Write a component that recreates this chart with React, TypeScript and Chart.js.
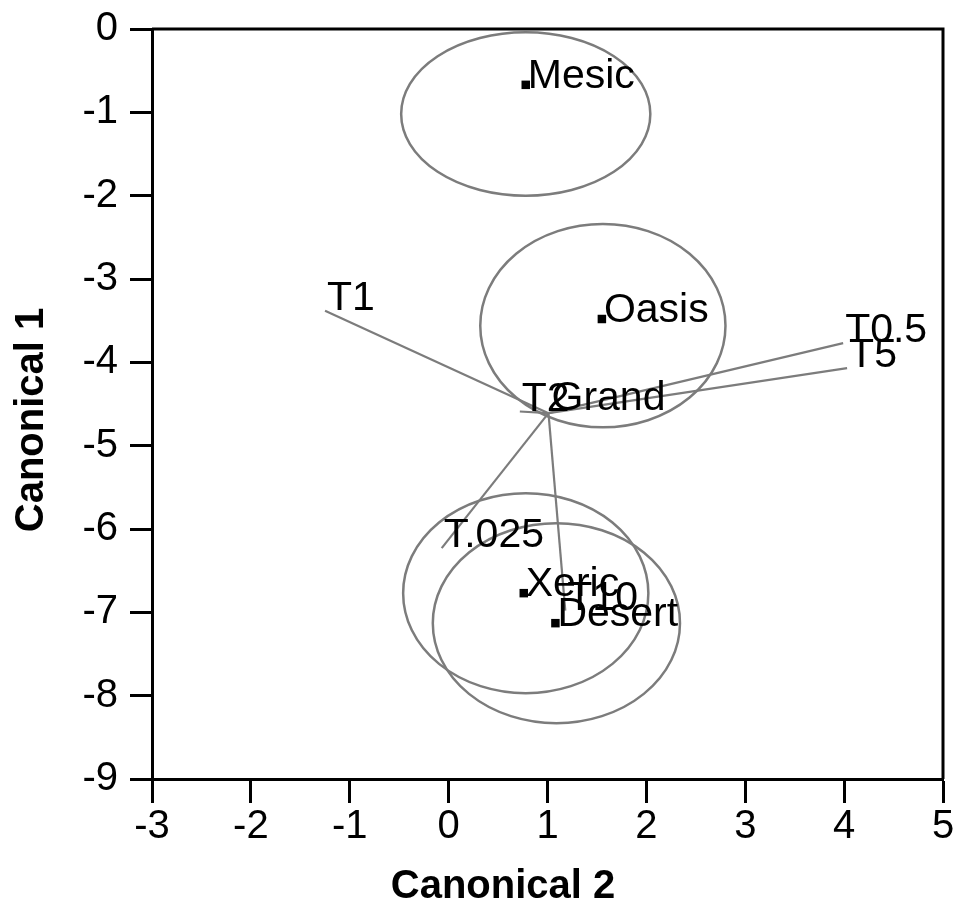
import React, { useEffect, useRef } from 'react';
import { Chart, registerables } from 'chart.js';

Chart.register(...registerables);

// ---- Data ----
const groupNames = ['Mesic', 'Oasis', 'Xeric', 'Desert'];
const groupX = [0.78, 1.55, 0.76, 1.08];
const groupY = [-0.67, -3.48, -6.77, -7.13];

const ellipseCenterX = [0.78, 1.56, 0.78, 1.09];
const ellipseCenterY = [-1.02, -3.56, -6.77, -7.13];
const ellipseRadiusX = [1.26, 1.24, 1.24, 1.25];
const ellipseRadiusY = [0.98, 1.22, 1.2, 1.2];

const grandName = 'Grand';
const grandX = 1.01;
const grandY = -4.61;

const vectorNames = ['T1', 'T0.5', 'T5', 'T2', 'T.025', 'T10'];
const vectorX = [-1.25, 3.99, 4.03, 0.72, -0.07, 1.18];
const vectorY = [-3.38, -3.77, -4.07, -4.59, -6.23, -6.98];

const xAxisTitle = 'Canonical 2';
const yAxisTitle = 'Canonical 1';

const X_MIN = -3;
const X_MAX = 5;
const Y_MIN = -9;
const Y_MAX = 0;

const FONT = "'Liberation Sans', Arial, sans-serif";
const GRAY = '#7c7c7c';

const overlayPlugin = {
  id: 'overlay',
  beforeDatasetsDraw(chart: any) {
    const { ctx, scales } = chart;
    const xs = scales.x;
    const ys = scales.y;
    ctx.save();
    ctx.strokeStyle = GRAY;
    ctx.lineWidth = 2.5;
    for (let i = 0; i < ellipseCenterX.length; i++) {
      const cx = xs.getPixelForValue(ellipseCenterX[i]);
      const cy = ys.getPixelForValue(ellipseCenterY[i]);
      const rx = Math.abs(xs.getPixelForValue(ellipseCenterX[i] + ellipseRadiusX[i]) - cx);
      const ry = Math.abs(ys.getPixelForValue(ellipseCenterY[i] + ellipseRadiusY[i]) - cy);
      ctx.beginPath();
      ctx.ellipse(cx, cy, rx, ry, 0, 0, Math.PI * 2);
      ctx.stroke();
    }
    ctx.restore();
  },
  afterDatasetsDraw(chart: any) {
    const { ctx, scales, chartArea } = chart;
    const xs = scales.x;
    const ys = scales.y;
    ctx.save();
    ctx.fillStyle = '#000';
    ctx.font = `41px ${FONT}`;
    ctx.textAlign = 'left';
    ctx.textBaseline = 'alphabetic';
    for (let i = 0; i < groupNames.length; i++) {
      const px = xs.getPixelForValue(groupX[i]);
      const py = ys.getPixelForValue(groupY[i]);
      ctx.fillText(groupNames[i], px + 2, py + 3);
    }
    for (let i = 0; i < vectorNames.length; i++) {
      const px = xs.getPixelForValue(vectorX[i]);
      const py = ys.getPixelForValue(vectorY[i]);
      ctx.fillText(vectorNames[i], px + 2, py - 1);
    }
    {
      const px = xs.getPixelForValue(grandX);
      const py = ys.getPixelForValue(grandY);
      ctx.fillText(grandName, px + 3, py - 3);
    }
    // frame (top and right)
    ctx.strokeStyle = '#000';
    ctx.lineWidth = 3;
    ctx.beginPath();
    ctx.moveTo(chartArea.left, chartArea.top);
    ctx.lineTo(chartArea.right, chartArea.top);
    ctx.lineTo(chartArea.right, chartArea.bottom);
    ctx.stroke();
    ctx.restore();
  },
  afterDraw(chart: any) {
    const { ctx } = chart;
    ctx.save();
    ctx.fillStyle = '#000';
    ctx.font = `bold 40px ${FONT}`;
    ctx.textAlign = 'center';
    ctx.textBaseline = 'middle';
    ctx.fillText(xAxisTitle, 503, 887);
    ctx.translate(32, 420);
    ctx.rotate(-Math.PI / 2);
    ctx.fillText(yAxisTitle, 0, 0);
    ctx.restore();
  },
};

export default function App() {
  const canvasRef = useRef<HTMLCanvasElement | null>(null);

  useEffect(() => {
    const canvas = canvasRef.current;
    if (!canvas) return;

    const vectorDatasets = vectorNames.map((name, i) => ({
      type: 'line' as const,
      label: name,
      data: [
        { x: grandX, y: grandY },
        { x: vectorX[i], y: vectorY[i] },
      ],
      borderColor: GRAY,
      borderWidth: 2.2,
      pointRadius: 0,
      showLine: true,
      fill: false,
    }));

    const chart = new Chart(canvas, {
      type: 'scatter',
      data: {
        datasets: [
          ...vectorDatasets,
          {
            type: 'scatter' as const,
            label: 'groups',
            data: groupX.map((x, i) => ({ x, y: groupY[i] })),
            pointStyle: 'rect',
            pointRadius: 6,
            backgroundColor: '#000',
            borderColor: '#000',
            borderWidth: 0,
          },
        ],
      } as any,
      options: {
        animation: false,
        responsive: false,
        devicePixelRatio: 1,
        layout: { padding: { top: 29, right: 13, left: 0, bottom: 0 } },
        plugins: {
          legend: { display: false },
          tooltip: { enabled: false },
        },
        scales: {
          x: {
            type: 'linear',
            min: X_MIN,
            max: X_MAX,
            afterFit(scale: any) {
              scale.height = 143;
              scale.paddingLeft = 0;
              scale.paddingRight = 0;
            },
            ticks: {
              stepSize: 1,
              color: '#000',
              font: { family: FONT, size: 40 },
              padding: 0,
              maxRotation: 0,
            },
            grid: {
              drawOnChartArea: false,
              drawTicks: true,
              tickLength: 24,
              tickColor: '#000',
              tickWidth: 3,
            },
            border: { display: true, color: '#000', width: 3 },
          },
          y: {
            type: 'linear',
            min: Y_MIN,
            max: Y_MAX,
            afterFit(scale: any) {
              scale.width = 152;
              scale.paddingTop = 0;
              scale.paddingBottom = 0;
            },
            ticks: {
              stepSize: 1,
              color: '#000',
              font: { family: FONT, size: 40 },
              padding: 12,
            },
            grid: {
              drawOnChartArea: false,
              drawTicks: true,
              tickLength: 22,
              tickColor: '#000',
              tickWidth: 3,
            },
            border: { display: true, color: '#000', width: 3 },
          },
        },
      } as any,
      plugins: [overlayPlugin],
    });

    return () => {
      chart.destroy();
    };
  }, []);

  return (
    <div style={{ position: 'absolute', left: 0, top: 0, width: 956, height: 922, background: '#fff' }}>
      <canvas ref={canvasRef} width={956} height={922} style={{ display: 'block', width: 956, height: 922 }} />
    </div>
  );
}
